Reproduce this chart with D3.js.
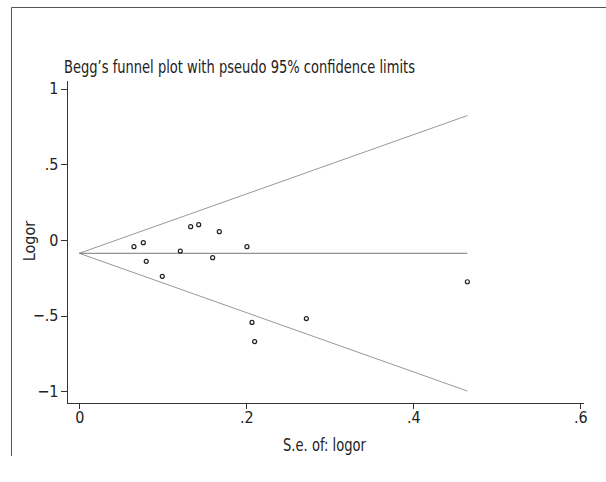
<!DOCTYPE html>
<html>
<head>
<meta charset="utf-8">
<script src="https://cdn.jsdelivr.net/npm/d3@7"></script>
<style>
  body { margin: 0; background: #fff; }
  svg { display: block; }
  text { font-family: "DejaVu Sans Condensed", "DejaVu Sans", sans-serif; font-stretch: condensed; fill: #222; }
  .axis path, .axis line { stroke: #333; stroke-width: 1; shape-rendering: crispEdges; }
  .axis text { font-size: 16px; }
</style>
</head>
<body>
<svg width="606" height="482"></svg>
<script>
// study standard errors and log odds ratios
var seValues = [0.0655, 0.0767, 0.0802, 0.0994, 0.121, 0.1334, 0.143, 0.1597, 0.1677, 0.2008, 0.2068, 0.210, 0.2719, 0.4647];
var logorValues = [-0.044, -0.018, -0.141, -0.240, -0.073, 0.088, 0.101, -0.117, 0.055, -0.044, -0.545, -0.672, -0.520, -0.276];
var pooled = -0.088;      // fixed-effect estimate (centre line)
var xTicks = [0, 0.2, 0.4, 0.6];
var yTicks = [-1, -0.5, 0, 0.5, 1];

var svg = d3.select('svg');

// outer frame (top and left edges only)
svg.append('path')
    .attr('d', 'M11.5,456V7.5H606')
    .attr('fill', 'none')
    .attr('stroke', '#555')
    .attr('stroke-width', 1);

var xScale = d3.scaleLinear()
    .domain([-0.0159, 0.6032])
    .range([66, 583]);
var yScale = d3.scaleLinear()
    .domain([-1.076, 1.058])
    .range([402.7, 80]);

function fmt(v) {
    if (v === 0) return '0';
    var s = Math.abs(v) < 1 ? String(Math.abs(v)).replace(/^0/, '') : String(Math.abs(v));
    return (v < 0 ? '\u2212' : '') + s;
}

var xAxisG = svg.append('g')
    .attr('class', 'x axis')
    .attr('transform', 'translate(0,402.5)')
    .call(d3.axisBottom(xScale).tickValues(xTicks).tickFormat(fmt).tickSize(6).tickSizeOuter(0).tickPadding(3));

var yAxisG = svg.append('g')
    .attr('class', 'y axis')
    .attr('transform', 'translate(66.5,0)')
    .call(d3.axisLeft(yScale).tickValues(yTicks).tickFormat(fmt).tickSize(6).tickSizeOuter(0).tickPadding(2));

// funnel: pseudo 95% limits and centre line
var seMax = d3.max(seValues);
var lineGen = d3.line()
    .x(function(d) { return xScale(d[0]); })
    .y(function(d) { return yScale(d[1]); });

svg.append('path')
    .attr('d', lineGen([[0, pooled], [seMax, pooled + 1.96 * seMax]]))
    .attr('fill', 'none').attr('stroke', '#999').attr('stroke-width', 1);
svg.append('path')
    .attr('d', lineGen([[0, pooled], [seMax, pooled - 1.96 * seMax]]))
    .attr('fill', 'none').attr('stroke', '#999').attr('stroke-width', 1);
svg.append('path')
    .attr('d', lineGen([[0, pooled], [seMax, pooled]]))
    .attr('fill', 'none').attr('stroke', '#777').attr('stroke-width', 1);

// study points
var pts = seValues.map(function(s, i) { return {se: s, logor: logorValues[i]}; });
svg.selectAll('.dot')
    .data(pts)
    .enter()
    .append('circle')
    .attr('class', 'dot')
    .attr('cx', function(d) { return xScale(d.se); })
    .attr('cy', function(d) { return yScale(d.logor); })
    .attr('r', 2)
    .attr('fill', 'none')
    .attr('stroke', '#222')
    .attr('stroke-width', 1.2);

// titles
svg.append('text')
    .attr('x', 64)
    .attr('y', 73)
    .attr('textLength', 351)
    .attr('lengthAdjust', 'spacingAndGlyphs')
    .style('font-size', '17px')
    .text('Begg\u2019s funnel plot with pseudo 95% confidence limits');

svg.append('text')
    .attr('x', 283)
    .attr('y', 451)
    .attr('textLength', 83)
    .attr('lengthAdjust', 'spacingAndGlyphs')
    .style('font-size', '17px')
    .text('S.e. of: logor');

svg.append('text')
    .attr('transform', 'translate(35,241) rotate(-90)')
    .attr('text-anchor', 'middle')
    .style('font-size', '16px')
    .text('Logor');
</script>
</body>
</html>
